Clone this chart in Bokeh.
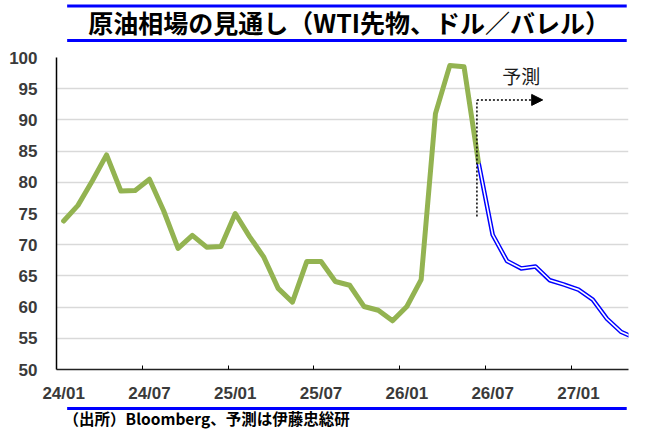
from bokeh.plotting import figure
from bokeh.layouts import column
from bokeh.models import Range1d, FixedTicker, Arrow, NormalHead
from bokeh.core.properties import value
from bokeh.embed import file_html
from bokeh.resources import INLINE

# ---------------- data ----------------
months = ["24/01", "24/02", "24/03", "24/04", "24/05", "24/06", "24/07", "24/08", "24/09", "24/10",
          "24/11", "24/12", "25/01", "25/02", "25/03", "25/04", "25/05", "25/06", "25/07", "25/08",
          "25/09", "25/10", "25/11", "25/12", "26/01", "26/02", "26/03", "26/04", "26/05", "26/06",
          "26/07", "26/08", "26/09", "26/10", "26/11", "26/12", "27/01", "27/02", "27/03", "27/04",
          "27/05"]
actual = [73.8, 76.3, 80.2, 84.4, 78.6, 78.7, 80.5, 75.4, 69.4, 71.5,
          69.6, 69.7, 75.0, 71.3, 68.0, 63.0, 60.8, 67.3, 67.3, 64.1,
          63.5, 60.1, 59.5, 57.8, 60.1, 64.4, 91.0, 98.7, 98.5, 83.3]
forecast_start = "26/06"
forecast = [83.3, 71.6, 67.4, 66.2, 66.5, 64.3, 63.6, 62.8, 61.2, 58.1, 56.0, 55.0]
tick_labels = ["24/01", "24/07", "25/01", "25/07", "26/01", "26/07", "27/01"]
y_ticks = [50, 55, 60, 65, 70, 75, 80, 85, 90, 95, 100]

title_text = "原油相場の見通し（WTI先物、ドル／バレル）"
source_text = "（出所）Bloomberg、予測は伊藤忠総研"
forecast_label = "予測"

# ---------------- style ----------------
W = 645
TOP_H, MAIN_H, BOT_H = 46, 359, 24
GREEN = "#93b351"
BLUE = "#0000ff"
LABEL_COLOR = "#3a3a3a"
NUM_FONT = "Liberation Sans"
JP_FONT = "Noto Sans CJK JP"

x_actual = list(range(len(actual)))
f0 = months.index(forecast_start)
x_forecast = [f0 + i for i in range(len(forecast))]
tick_pos = [months.index(t) for t in tick_labels]
minor_pos = [t - 0.5 for t in tick_pos[1:]]


def strip(height):
    s = figure(width=W, height=height, x_range=Range1d(0, W), y_range=Range1d(height, 0),
               output_backend="svg", toolbar_location=None, min_border=0,
               x_axis_location=None, y_axis_location=None)
    s.grid.visible = False
    s.outline_line_color = None
    return s


# ---------------- title strip ----------------
top = strip(TOP_H)
top.segment(x0=[12, 12], y0=[5.5, 40], x1=[643, 643], y1=[5.5, 40],
            line_color=BLUE, line_width=3)
top.text(x=[330], y=[21], text=[title_text], text_font=value(JP_FONT),
         text_font_style="bold", text_font_size="25px", text_color="black",
         text_align="center", text_baseline="middle")

# ---------------- main chart ----------------
p = figure(width=W, height=MAIN_H, x_range=Range1d(-0.5, 39.5), y_range=Range1d(50, 100),
           output_backend="svg", toolbar_location=None,
           min_border_left=56, min_border_right=17, min_border_top=11, min_border_bottom=27)
p.outline_line_color = None
p.xgrid.visible = False
p.ygrid.grid_line_color = "#d9d9d9"
p.ygrid.grid_line_width = 1.5

p.yaxis.ticker = FixedTicker(ticks=y_ticks)
p.yaxis.major_tick_line_color = None
p.yaxis.minor_tick_line_color = None
p.yaxis.major_label_standoff = 13
p.yaxis.axis_line_color = "black"
p.yaxis.axis_line_width = 1.5

p.xaxis.ticker = FixedTicker(ticks=tick_pos, minor_ticks=minor_pos)
p.xaxis.major_label_overrides = {t: lab for t, lab in zip(tick_pos, tick_labels)}
p.xaxis.major_tick_line_color = None
p.xaxis.minor_tick_line_color = "black"
p.xaxis.minor_tick_in = 4
p.xaxis.minor_tick_out = 0
p.xaxis.major_label_standoff = 8
p.xaxis.axis_line_color = "#222222"
p.xaxis.axis_line_width = 1.3

for ax in (p.xaxis, p.yaxis):
    ax.major_label_text_font = NUM_FONT
    ax.major_label_text_font_style = "bold"
    ax.major_label_text_font_size = "17px"
    ax.major_label_text_color = LABEL_COLOR

p.line(x_forecast, forecast, line_color=BLUE, line_width=4.5, line_join="round")
p.line(x_forecast, forecast, line_color="white", line_width=1.6, line_join="round")
p.line(x_actual, actual, line_color=GREEN, line_width=5, line_join="round", line_cap="round")

mark_x = f0 - 0.1
mark_y_low, mark_y_top = 74.5, 93.2
arrow_end_x = f0 + 4.5
p.segment(x0=[mark_x], y0=[mark_y_low], x1=[mark_x], y1=[mark_y_top],
          line_color="black", line_width=1.5, line_dash="2 2")
p.add_layout(Arrow(end=NormalHead(size=11, fill_color="black", line_color="black"),
                   x_start=mark_x, y_start=mark_y_top, x_end=arrow_end_x, y_end=mark_y_top,
                   line_color="black", line_width=1.5, line_dash="2 2"))
p.text(x=[f0 + 3.0], y=[97.1], text=[forecast_label], text_font=value(JP_FONT),
       text_font_size="19px", text_color="#1a1a1a", text_align="center", text_baseline="middle")

# ---------------- source strip ----------------
bot = strip(BOT_H)
bot.segment(x0=[12], y0=[3], x1=[643], y1=[3], line_color=BLUE, line_width=3)
bot.text(x=[8], y=[12.5], text=[source_text], text_font=value(JP_FONT),
         text_font_style="bold", text_font_size="15.5px", text_color="black",
         text_align="left", text_baseline="middle")

layout = column(top, p, bot, spacing=0)
open("out.html", "w").write(file_html(layout, INLINE))
